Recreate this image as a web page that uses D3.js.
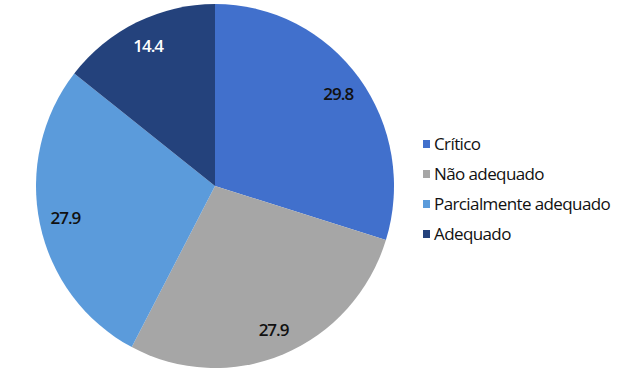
<!DOCTYPE html>
<html>
<head>
<meta charset="utf-8">
<script src="https://cdn.jsdelivr.net/npm/d3@7"></script>
<style>
  body { margin: 0; background: #fff; }
  text { font-family: "Open Sans", sans-serif; }
</style>
</head>
<body>
<div id="main"></div>
<script>
const ctx = {
    w: 629,
    h: 371,
    cx: 215,
    cy: 186,
    rx: 179,
    ry: 182,
};

// data
const categories = ["Crítico", "Não adequado", "Parcialmente adequado", "Adequado"];
const values = [29.8, 27.9, 27.9, 14.4];
const colors = ["#4170cc", "#a6a6a6", "#5b9bdb", "#24427c"];
const labelColors = ["#111", "#111", "#111", "#fff"];

function createViz() {
    let svg = d3.select("#main").append("svg")
        .attr("width", ctx.w)
        .attr("height", ctx.h);

    let data = categories.map((c, i) => ({ cat: c, value: values[i], i: i }));
    let pie = d3.pie().sort(null).value(d => d.value);
    let arcs = pie(data);
    let arc = d3.arc().innerRadius(0).outerRadius(ctx.rx);

    let g = svg.append("g")
        .attr("transform", `translate(${ctx.cx},${ctx.cy}) scale(1,${ctx.ry / ctx.rx})`);
    g.selectAll("path")
        .data(arcs)
        .enter()
        .append("path")
        .attr("d", arc)
        .style("fill", d => colors[d.data.i]);

    // value labels
    let labelR = 153;
    svg.selectAll(".val")
        .data(arcs)
        .enter()
        .append("text")
        .attr("class", "val")
        .attr("x", d => ctx.cx + labelR * Math.sin((d.startAngle + d.endAngle) / 2))
        .attr("y", d => ctx.cy - labelR * (ctx.ry / ctx.rx) * Math.cos((d.startAngle + d.endAngle) / 2))
        .attr("dy", "0.35em")
        .attr("text-anchor", "middle")
        .style("font-size", "17px")
        .style("font-weight", 600)
        .style("letter-spacing", "-1px")
        .style("fill", d => labelColors[d.data.i])
        .text(d => d.data.value.toFixed(1));

    // legend
    let y = d3.scalePoint().domain(categories).range([144, 234]);
    let legend = svg.selectAll(".leg")
        .data(data)
        .enter()
        .append("g")
        .attr("class", "leg")
        .attr("transform", d => `translate(423,${y(d.cat)})`);
    legend.append("rect")
        .attr("x", 0)
        .attr("y", -4)
        .attr("width", 7)
        .attr("height", 8)
        .style("fill", d => colors[d.i]);
    legend.append("text")
        .attr("x", 11)
        .attr("dy", "0.35em")
        .style("font-size", "17px")
        .style("letter-spacing", "-0.6px")
        .style("fill", "#111")
        .text(d => d.cat);
}

createViz();
</script>
</body>
</html>
